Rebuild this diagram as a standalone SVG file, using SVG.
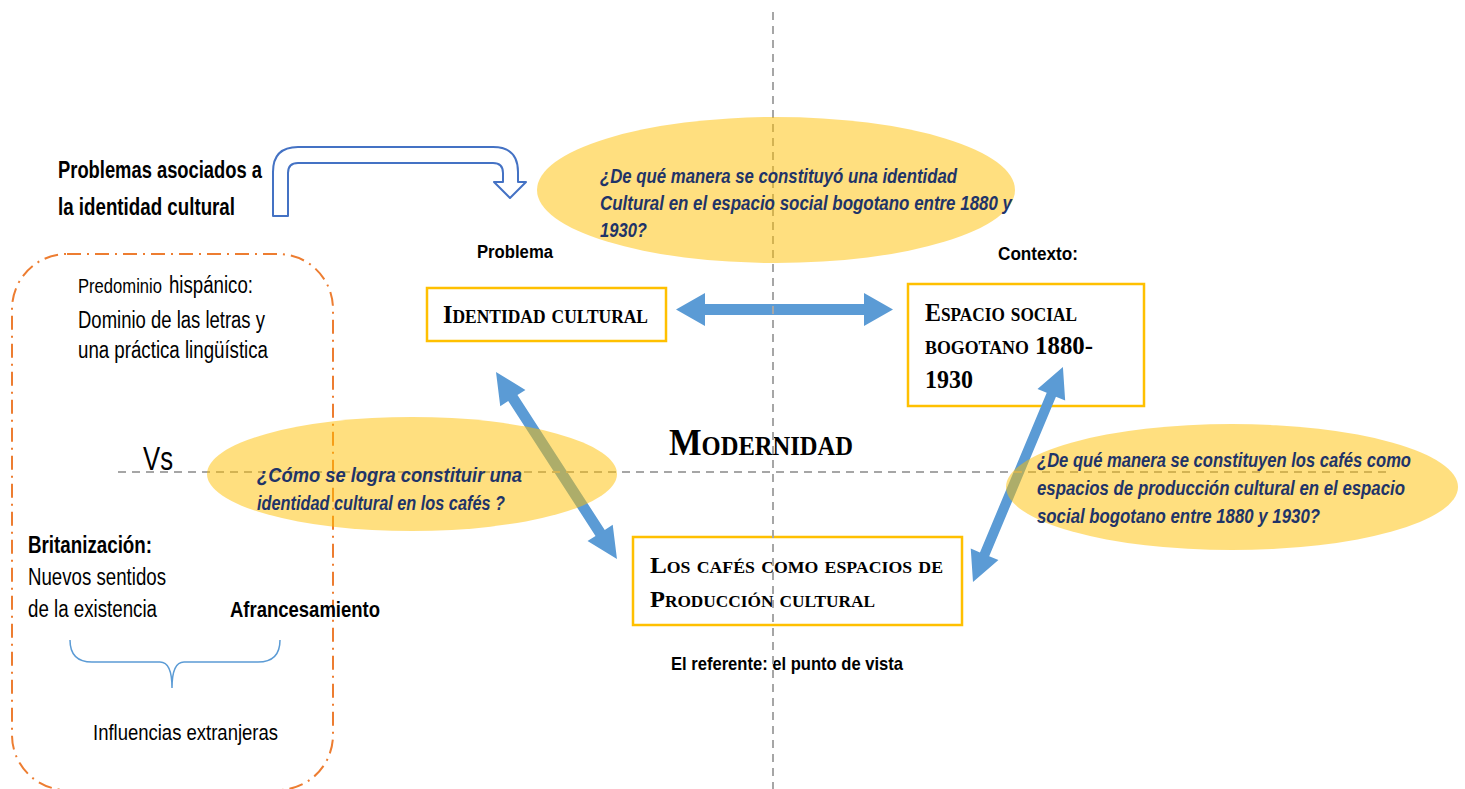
<svg xmlns="http://www.w3.org/2000/svg" width="1465" height="789" viewBox="0 0 1465 789">
  <style>
    .sans { font-family: "Liberation Sans Narrow", "Liberation Sans", Arial, sans-serif; fill: #000; }
    .b { font-weight: bold; }
    .q { font-family: "Liberation Sans Narrow", "Liberation Sans", Arial, sans-serif; font-weight: bold; font-style: italic; fill: #1F3468; font-size: 21px; }
    .sc { font-family: "Liberation Serif", "Times New Roman", serif; font-weight: bold; font-variant: small-caps; fill: #000; }
    .box { fill: #fff; stroke: #FFC000; stroke-width: 2.5; }
    .axis { stroke: #A6A6A6; stroke-width: 2; stroke-dasharray: 8 6; fill: none; }
    .bubble { fill: #FFC000; fill-opacity: 0.5; }
    .dbl { fill: #5B9BD5; }
  </style>

  <rect width="1465" height="789" fill="#fff"/>

  <!-- Left panel: foreign influences -->
  <g id="panel-influencias">
    <rect x="12" y="254" width="321" height="536" rx="55" ry="55" fill="none" stroke="#ED7D31" stroke-width="2" stroke-dasharray="14 6 2 6"/>
    <text class="sans" x="78" y="293" font-size="20" textLength="84" lengthAdjust="spacingAndGlyphs">Predominio</text>
    <text class="sans" x="169" y="293" font-size="23" textLength="84" lengthAdjust="spacingAndGlyphs">hispánico:</text>
    <text class="sans" x="78" y="328" font-size="23" textLength="187" lengthAdjust="spacingAndGlyphs">Dominio de las letras y</text>
    <text class="sans" x="78" y="358" font-size="23" textLength="190" lengthAdjust="spacingAndGlyphs">una práctica lingüística</text>
    <text class="sans" x="143" y="470" font-size="34" textLength="30" lengthAdjust="spacingAndGlyphs">Vs</text>
    <text class="sans b" x="28" y="553" font-size="23" textLength="124" lengthAdjust="spacingAndGlyphs">Britanización:</text>
    <text class="sans" x="28" y="585" font-size="23" textLength="138" lengthAdjust="spacingAndGlyphs">Nuevos sentidos</text>
    <text class="sans" x="28" y="617" font-size="23" textLength="129" lengthAdjust="spacingAndGlyphs">de la existencia</text>
    <text class="sans b" x="230" y="617" font-size="22" textLength="150" lengthAdjust="spacingAndGlyphs">Afrancesamiento</text>
    <path d="M70,640 Q70,662 92,662 H160 Q172,662 172,688 Q172,662 184,662 H258 Q280,662 280,640" fill="none" stroke="#5B9BD5" stroke-width="1.5"/>
    <text class="sans" x="93" y="740" font-size="22" textLength="185" lengthAdjust="spacingAndGlyphs">Influencias extranjeras</text>
  </g>

  <!-- Heading with bent arrow -->
  <g id="problemas-asociados">
    <text class="sans b" x="58" y="178" font-size="23" textLength="204" lengthAdjust="spacingAndGlyphs">Problemas asociados a</text>
    <text class="sans b" x="58" y="215" font-size="23" textLength="177" lengthAdjust="spacingAndGlyphs">la identidad cultural</text>
    <path d="M273,216 V172 Q273,147 298,147 H493 Q518,147 518,172 V182 H526 L510,198 L494,182 H503 V173 Q503,163 493,163 H298 Q288,163 288,173 V216 Z" fill="#fff" stroke="#4472C4" stroke-width="2" stroke-linejoin="round"/>
  </g>

  <!-- Labels -->
  <g id="label-problema">
    <text class="sans b" x="477" y="258" font-size="18" textLength="76" lengthAdjust="spacingAndGlyphs">Problema</text>
  </g>
  <g id="label-contexto">
    <text class="sans b" x="998" y="260" font-size="19" textLength="80" lengthAdjust="spacingAndGlyphs">Contexto:</text>
  </g>

  <!-- Nodes -->
  <g id="node-identidad">
    <rect class="box" x="427" y="288" width="239" height="53"/>
    <text class="sc" x="443" y="323" font-size="25" textLength="205" lengthAdjust="spacingAndGlyphs">Identidad cultural</text>
  </g>
  <g id="node-espacio">
    <rect class="box" x="908" y="284" width="236" height="122"/>
    <text class="sc" x="925" y="321" font-size="25" textLength="152" lengthAdjust="spacingAndGlyphs">Espacio social</text>
    <text class="sc" x="925" y="354" font-size="25" textLength="168" lengthAdjust="spacingAndGlyphs">bogotano 1880-</text>
    <text class="sc" x="925" y="388" font-size="25" textLength="48" lengthAdjust="spacingAndGlyphs">1930</text>
  </g>
  <g id="node-cafes">
    <rect class="box" x="633" y="537" width="329" height="88"/>
    <text class="sc" x="650" y="573" font-size="24" textLength="293" lengthAdjust="spacingAndGlyphs">Los cafés como espacios de</text>
    <text class="sc" x="650" y="607" font-size="24" textLength="225" lengthAdjust="spacingAndGlyphs">Producción cultural</text>
  </g>
  <g id="label-referente">
    <text class="sans b" x="671" y="670" font-size="19" textLength="232" lengthAdjust="spacingAndGlyphs">El referente: el punto de vista</text>
  </g>
  <g id="label-modernidad">
    <text class="sc" x="669" y="455" font-size="38" textLength="184" lengthAdjust="spacingAndGlyphs">Modernidad</text>
  </g>

  <!-- Connectors: double-headed block arrows -->
  <defs>
    <path id="dbl-h" d="M0,0 L29,-16.5 L29,-5.5 L188,-5.5 L188,-16.5 L217,0 L188,16.5 L188,5.5 L29,5.5 L29,16.5 Z"/>
  </defs>
  <g id="connectors">
    <use href="#dbl-h" class="dbl" transform="translate(676,309.5)"/>
    <path class="dbl" transform="translate(496,372) rotate(57.1)" d="M0,0 L31,-15 L31,-5.5 L191.7,-5.5 L191.7,-15 L222.7,0 L191.7,15 L191.7,5.5 L31,5.5 L31,15 Z"/>
    <path class="dbl" transform="translate(973,582) rotate(-67.3)" d="M0,0 L30,-15 L30,-5 L203,-5 L203,-15 L233,0 L203,15 L203,5 L30,5 L30,15 Z"/>
  </g>

  <!-- Axes -->
  <g id="axes">
    <line class="axis" x1="773" y1="12" x2="773" y2="789"/>
    <line class="axis" x1="118" y1="472" x2="1390" y2="472"/>
  </g>

  <!-- Research questions -->
  <g id="pregunta-general">
    <ellipse class="bubble" cx="776" cy="190" rx="239" ry="73"/>
    <text class="q" x="600" y="183" textLength="357" lengthAdjust="spacingAndGlyphs">¿De qué manera se constituyó una identidad</text>
    <text class="q" x="600" y="210" textLength="412" lengthAdjust="spacingAndGlyphs">Cultural en el espacio social bogotano entre 1880 y</text>
    <text class="q" x="600" y="237" textLength="47" lengthAdjust="spacingAndGlyphs">1930?</text>
  </g>
  <g id="pregunta-cafes">
    <ellipse class="bubble" cx="412" cy="474" rx="205" ry="57"/>
    <text class="q" x="257" y="482" font-size="20" textLength="265" lengthAdjust="spacingAndGlyphs">¿Cómo se logra constituir una</text>
    <text class="q" x="257" y="510" font-size="20" textLength="248" lengthAdjust="spacingAndGlyphs">identidad cultural en los cafés ?</text>
  </g>
  <g id="pregunta-espacios">
    <ellipse class="bubble" cx="1232" cy="487" rx="226" ry="63"/>
    <text class="q" x="1037" y="467" textLength="374" lengthAdjust="spacingAndGlyphs">¿De qué manera se constituyen los cafés como</text>
    <text class="q" x="1037" y="495" textLength="368" lengthAdjust="spacingAndGlyphs">espacios de producción cultural en el espacio</text>
    <text class="q" x="1037" y="523" textLength="283" lengthAdjust="spacingAndGlyphs">social bogotano entre 1880 y 1930?</text>
  </g>
</svg>
